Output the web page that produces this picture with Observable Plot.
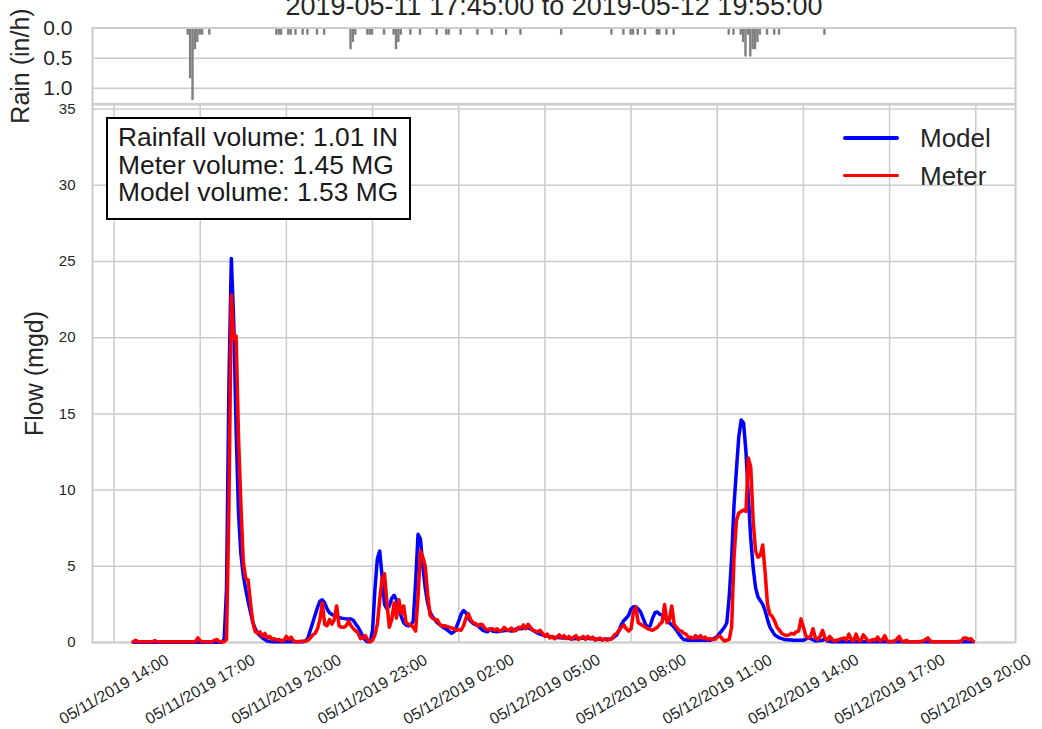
<!DOCTYPE html>
<html><head><meta charset="utf-8">
<script src="https://cdn.jsdelivr.net/npm/d3@7"></script>
<script src="https://cdn.jsdelivr.net/npm/@observablehq/plot@0.6"></script>
<style>
html,body{margin:0;padding:0;background:#fff;overflow:hidden}
#fig{position:relative;width:1042px;height:729px;font-family:"Liberation Sans",Arial,Helvetica,sans-serif;color:#262626;background:#fff}
#fig svg{position:absolute;left:0}
#box{position:absolute;left:106px;top:117px;width:305px;height:103px;box-sizing:border-box;border:2px solid #000;background:#fff;padding:5px 0 0 10px;font-size:26.4px;line-height:27.5px;color:#1a1a1a;white-space:nowrap}
.lg-line{position:absolute;left:843px;width:56px;height:3.5px;border-radius:2px}
.lg-text{position:absolute;left:920px;font-size:26px;line-height:26px;color:#262626}
</style></head>
<body><div id="fig"></div>
<script>
// ---------- data ----------
const titleText = "2019-05-11 17:45:00 to 2019-05-12 19:55:00";
const seriesNames = ["Model", "Meter"];
const seriesColors = ["#0000ff", "#ff0000"];
const volumeLines = ["Rainfall volume: 1.01 IN", "Meter volume: 1.45 MG", "Model volume: 1.53 MG"];

const xTickTimes = ["11 14:00","11 17:00","11 20:00","11 23:00","12 02:00","12 05:00","12 08:00","12 11:00","12 14:00","12 17:00","12 20:00"];
const flowTicks = [0,5,10,15,20,25,30,35];
const rainTicks = [0,0.5,1.0];

const rainTimes = ["11 16:35","11 16:40","11 16:45","11 16:50","11 16:55","11 17:00","11 17:05","11 17:20",
 "11 19:40","11 19:45","11 19:50","11 20:05","11 20:10","11 20:20","11 20:35","11 20:45","11 21:05","11 21:20",
 "11 22:15","11 22:20","11 22:25","11 22:50","11 22:55","11 23:00","11 23:25","11 23:45","11 23:50","11 23:55",
 "12 00:00","12 00:20","12 00:40","12 01:15","12 01:35","12 01:40","12 02:05","12 02:40","12 03:10","12 03:40","12 04:10","12 05:35",
 "12 07:20","12 07:45","12 08:00","12 08:05","12 08:15","12 08:30","12 08:55","12 09:00","12 09:15","12 09:30",
 "12 11:25","12 11:35","12 11:50","12 11:55","12 12:00","12 12:05","12 12:10","12 12:15","12 12:20","12 12:25","12 12:30",
 "12 12:45","12 13:00","12 13:10","12 14:45"];
const rainIntensity = [0.12,0.84,1.2,0.36,0.24,0.12,0.12,0.12,
 0.12,0.12,0.12,0.12,0.12,0.12,0.12,0.12,0.12,0.12,
 0.36,0.24,0.12,0.12,0.12,0.12,0.12,0.12,0.36,0.24,
 0.12,0.12,0.12,0.12,0.12,0.12,0.12,0.12,0.12,0.12,0.12,0.12,
 0.12,0.12,0.12,0.12,0.12,0.12,0.12,0.12,0.12,0.12,
 0.12,0.12,0.12,0.24,0.48,0.12,0.48,0.36,0.36,0.24,0.12,
 0.12,0.12,0.12,0.12];

const modelTimes = ["11 14:40","11 17:45","11 17:50","11 17:55","11 18:00","11 18:05","11 18:10","11 18:15","11 18:20","11 18:25","11 18:30","11 18:35","11 18:40","11 18:45","11 18:50","11 18:55","11 19:00","11 19:10","11 19:20","11 19:30",
 "11 20:35","11 20:40","11 20:45","11 20:50","11 20:55","11 21:00","11 21:05","11 21:10","11 21:15","11 21:20","11 21:25","11 21:30","11 21:35","11 21:45","11 21:55","11 22:05","11 22:15","11 22:20","11 22:25","11 22:30","11 22:35","11 22:40","11 22:45","11 22:50","11 22:55",
 "11 23:00","11 23:05","11 23:10","11 23:15","11 23:20","11 23:25","11 23:30","11 23:35","11 23:40","11 23:45","11 23:50","11 23:55",
 "12 00:00","12 00:05","12 00:10","12 00:15","12 00:20","12 00:25","12 00:30","12 00:35","12 00:40","12 00:45","12 00:50","12 00:55","12 01:00","12 01:05","12 01:10","12 01:15","12 01:25","12 01:35","12 01:45","12 01:50","12 01:55",
 "12 02:00","12 02:05","12 02:10","12 02:15","12 02:20","12 02:25","12 02:30","12 02:40","12 02:50","12 03:00","12 03:05","12 03:10","12 03:20","12 03:30","12 03:40","12 03:50","12 04:00","12 04:10","12 04:20","12 04:30","12 04:40","12 04:50",
 "12 05:00","12 05:10","12 05:20","12 05:40","12 06:00","12 06:20","12 06:40","12 07:00","12 07:20","12 07:30","12 07:35","12 07:40","12 07:45","12 07:50","12 07:55",
 "12 08:00","12 08:05","12 08:10","12 08:15","12 08:20","12 08:25","12 08:30","12 08:35","12 08:40","12 08:45","12 08:50","12 08:55","12 09:00","12 09:05","12 09:10","12 09:15","12 09:20","12 09:25","12 09:30","12 09:35","12 09:40","12 09:45","12 09:50",
 "12 10:00","12 10:45","12 10:50","12 10:55","12 11:00","12 11:05","12 11:10","12 11:15","12 11:20","12 11:25","12 11:30","12 11:35","12 11:40","12 11:45","12 11:50","12 11:55",
 "12 12:00","12 12:05","12 12:10","12 12:15","12 12:20","12 12:25","12 12:30","12 12:35","12 12:40","12 12:45","12 12:50","12 12:55","12 13:00","12 13:05","12 13:10","12 13:20","12 13:40",
 "12 14:00","12 14:10","12 14:15","12 14:25","12 14:40","12 14:45","12 14:50","12 15:00","12 19:55"];
const modelFlow = [0.02,0.02,0.2,3.5,17,25.2,21,14,8.5,5.8,4.4,3.5,2.7,2.0,1.3,0.9,0.6,0.3,0.1,0.05,
 0.05,0.1,0.3,0.8,1.3,1.8,2.3,2.7,2.8,2.6,2.2,1.95,1.85,1.7,1.6,1.55,1.55,1.45,1.2,1.0,0.7,0.35,0.15,0.05,0.05,
 0.8,3.5,5.5,6.0,4.3,2.5,2.2,2.4,2.9,3.1,2.8,2.2,
 1.7,1.3,1.15,1.1,1.15,1.4,4.0,7.1,6.8,5.0,3.6,2.6,2.0,1.7,1.5,1.3,1.05,0.85,0.6,0.7,1.0,
 1.4,1.85,2.1,1.95,1.6,1.4,1.25,1.1,0.8,0.7,0.9,0.75,0.7,0.75,0.8,0.75,0.9,0.9,1.0,0.9,0.7,0.55,
 0.45,0.4,0.35,0.3,0.25,0.3,0.25,0.2,0.25,0.5,0.8,1.2,1.45,1.6,1.8,
 2.2,2.35,2.35,2.2,2.0,1.6,1.2,1.0,1.1,1.6,1.95,2.0,1.85,1.8,1.65,1.45,1.3,1.15,1.0,0.8,0.55,0.35,0.2,
 0.15,0.15,0.2,0.3,0.4,0.6,0.8,1.0,1.3,3.0,5.5,9.0,11.3,13.5,14.6,14.4,
 12.5,9.5,6.8,4.9,3.6,3.0,2.75,2.5,2.1,1.5,1.0,0.75,0.5,0.4,0.3,0.2,0.15,
 0.15,0.3,0.25,0.1,0.15,0.25,0.1,0.05,0.05];

const meterTimes = ["11 14:40","11 14:45","11 14:50","11 15:20","11 15:25","11 15:30","11 16:50","11 16:55","11 17:00","11 17:05","11 17:25","11 17:30","11 17:35","11 17:40","11 17:50","11 17:55",
 "11 18:00","11 18:05","11 18:10","11 18:15","11 18:20","11 18:25","11 18:30","11 18:35","11 18:40","11 18:45","11 18:50","11 18:55","11 19:00","11 19:05","11 19:10","11 19:15","11 19:20","11 19:25","11 19:30","11 19:35","11 19:40","11 19:45","11 19:50","11 19:55",
 "11 20:00","11 20:05","11 20:10","11 20:15","11 20:20","11 20:40","11 20:45","11 20:50","11 20:55","11 21:00","11 21:05","11 21:10","11 21:15","11 21:20","11 21:25","11 21:30","11 21:35","11 21:40","11 21:45","11 21:50","11 21:55",
 "11 22:00","11 22:05","11 22:10","11 22:15","11 22:20","11 22:25","11 22:30","11 22:35","11 22:40","11 22:45","11 22:50","11 22:55","11 23:00","11 23:05","11 23:10","11 23:15","11 23:20","11 23:25","11 23:30","11 23:35","11 23:40","11 23:45","11 23:50","11 23:55",
 "12 00:00","12 00:05","12 00:10","12 00:15","12 00:20","12 00:25","12 00:30","12 00:35","12 00:40","12 00:45","12 00:50","12 00:55","12 01:00","12 01:05","12 01:10","12 01:15","12 01:20","12 01:25","12 01:30","12 01:35","12 01:40","12 01:45","12 01:50","12 01:55",
 "12 02:00","12 02:05","12 02:10","12 02:15","12 02:20","12 02:25","12 02:30","12 02:35","12 02:40","12 02:45","12 02:50","12 02:55","12 03:00","12 03:05","12 03:10","12 03:15","12 03:20","12 03:25","12 03:30","12 03:35","12 03:40","12 03:45","12 03:50","12 03:55",
 "12 04:00","12 04:05","12 04:10","12 04:15","12 04:20","12 04:25","12 04:30","12 04:35","12 04:40","12 04:45","12 04:50","12 04:55","12 05:00","12 05:05","12 05:10","12 05:15","12 05:20","12 05:25","12 05:30","12 05:35","12 05:40","12 05:45","12 05:50","12 05:55",
 "12 06:00","12 06:05","12 06:10","12 06:15","12 06:20","12 06:25","12 06:30","12 06:35","12 06:40","12 06:45","12 06:50","12 06:55","12 07:00","12 07:05","12 07:10","12 07:15","12 07:20","12 07:25","12 07:30","12 07:35","12 07:40","12 07:45","12 07:50","12 07:55",
 "12 08:00","12 08:05","12 08:10","12 08:15","12 08:20","12 08:25","12 08:30","12 08:35","12 08:40","12 08:45","12 08:50","12 08:55","12 09:00","12 09:05","12 09:10","12 09:15","12 09:20","12 09:25","12 09:30","12 09:35","12 09:40","12 09:45","12 09:50","12 09:55",
 "12 10:00","12 10:05","12 10:10","12 10:15","12 10:20","12 10:25","12 10:30","12 10:35","12 10:40","12 10:45","12 10:50","12 10:55","12 11:00","12 11:05","12 11:10","12 11:15","12 11:20","12 11:25","12 11:30","12 11:35","12 11:40","12 11:45","12 11:50","12 11:55",
 "12 12:00","12 12:05","12 12:10","12 12:15","12 12:20","12 12:25","12 12:30","12 12:35","12 12:40","12 12:45","12 12:50","12 12:55","12 13:00","12 13:05","12 13:10","12 13:15","12 13:20","12 13:25","12 13:30","12 13:35","12 13:40","12 13:45","12 13:50","12 13:55",
 "12 14:00","12 14:05","12 14:10","12 14:15","12 14:20","12 14:25","12 14:30","12 14:35","12 14:40","12 14:45","12 14:50","12 14:55","12 15:00","12 15:05","12 15:10","12 15:15","12 15:20","12 15:25","12 15:30","12 15:35","12 15:40","12 15:45","12 15:50","12 15:55",
 "12 16:00","12 16:05","12 16:10","12 16:15","12 16:20","12 16:25","12 16:30","12 16:35","12 16:40","12 16:45","12 16:50","12 16:55","12 17:00","12 17:10","12 17:15","12 17:20","12 17:25","12 17:30","12 17:35","12 17:40",
 "12 18:00","12 18:10","12 18:20","12 18:25","12 18:30","12 19:00","12 19:20","12 19:30","12 19:35","12 19:40","12 19:45","12 19:50","12 19:55"];
const meterFlow = [0.05,0.15,0.05,0.05,0.12,0.05,0.05,0.3,0.1,0.05,0.05,0.15,0.2,0.05,0.05,0.2,
 9,22.8,19.9,20.1,13.5,9,5.3,4.2,4.1,2.6,1.3,0.7,0.6,0.7,0.4,0.6,0.3,0.4,0.2,0.25,0.15,0.2,0.1,0.15,
 0.4,0.2,0.35,0.1,0.05,0.1,0.15,0.3,0.5,0.6,0.9,1.5,2.6,1.2,1.1,1.5,1.2,1.5,2.4,1.1,1.0,
 1.0,1.1,1.4,1.1,0.9,0.75,0.6,0.25,0.3,0.45,0.15,0.05,0.15,0.5,1.2,2.8,4.2,4.5,2.6,1.0,1.5,2.6,1.6,2.8,
 1.9,2.4,1.3,1.2,1.15,1.0,0.75,3.0,6.0,5.6,5.0,3.2,1.8,1.6,1.5,1.5,1.2,1.1,1.1,1.05,1.0,0.95,0.9,0.8,
 0.85,0.8,1.1,1.6,1.9,1.5,1.3,1.25,1.1,1.2,1.15,0.9,0.85,0.85,0.9,0.8,0.9,0.75,0.8,1.0,0.85,0.8,0.95,0.75,
 0.8,1.0,0.95,1.15,0.9,1.2,1.0,0.8,0.75,0.7,0.8,0.6,0.4,0.55,0.3,0.4,0.25,0.35,0.5,0.3,0.45,0.25,0.4,0.2,
 0.35,0.45,0.2,0.3,0.4,0.2,0.4,0.25,0.35,0.15,0.2,0.3,0.15,0.25,0.15,0.2,0.25,0.5,0.6,0.8,1.0,1.15,0.9,0.75,
 0.9,2.0,2.3,1.3,1.2,1.1,1.0,0.9,0.85,0.8,0.9,1.0,1.2,1.35,2.5,1.3,1.5,2.4,1.2,1.0,0.8,0.75,0.6,0.55,
 0.3,0.35,0.25,0.45,0.3,0.45,0.25,0.35,0.2,0.25,0.2,0.2,0.35,0.45,0.25,0.1,0.15,0.2,1.0,5.5,8.0,8.5,8.6,8.7,
 8.6,12.1,11.5,8.0,6.0,5.6,5.7,6.4,4.6,2.5,1.85,1.7,1.4,1.0,0.8,0.6,0.5,0.45,0.5,0.6,0.55,0.7,0.75,1.55,
 1.0,0.45,0.3,0.4,0.9,0.3,0.2,0.4,0.8,0.3,0.15,0.4,0.2,0.1,0.15,0.2,0.25,0.3,0.15,0.55,0.2,0.1,0.55,0.15,
 0.1,0.5,0.3,0.1,0.1,0.2,0.15,0.35,0.1,0.2,0.45,0.1,0.05,0.1,0.2,0.4,0.1,0.05,0.15,0.05,
 0.05,0.1,0.3,0.1,0.05,0.05,0.05,0.1,0.3,0.3,0.2,0.25,0.05];

// ---------- build ----------
const parse = d3.utcParse("%Y-%m-%d %H:%M");
const T = s => parse("2019-05-" + s);
const model = modelTimes.map((t, i) => ({t: T(t), v: modelFlow[i]}));
const meter = meterTimes.map((t, i) => ({t: T(t), v: meterFlow[i]}));
const rain = rainTimes.map((t, i) => ({t: T(t), v: rainIntensity[i]}));
const xTicks = xTickTimes.map(T);
const xDomain = [T("11 13:15"), T("12 21:23")];
const fmt = d3.utcFormat("%m/%d/%Y %H:%M");
const svgStyle = {background: "transparent", fontFamily: '"Liberation Sans", Arial, Helvetica, sans-serif', color: "#262626", overflow: "visible"};
const grid = "#cccccc";

const rainPlot = Plot.plot({
  width: 1042, height: 106,
  marginLeft: 92, marginRight: 27, marginTop: 27.5, marginBottom: 2.5,
  x: {type: "utc", domain: xDomain, axis: null},
  y: {domain: [0, 1.26], reverse: true, axis: null},
  style: svgStyle,
  marks: [
    Plot.ruleY(rainTicks.slice(1), {stroke: grid, strokeWidth: 1.5}),
    Plot.rect(rain, {x1: d => new Date(+d.t - 150000), x2: d => new Date(+d.t + 150000), y1: 0, y2: "v", fill: "#7f7f7f"}),
    Plot.frame({stroke: grid, strokeWidth: 2}),
    Plot.axisY({ticks: rainTicks, tickSize: 0, tickPadding: 20, fontSize: 21, tickFormat: d3.format(".1f"), label: null}),
    Plot.text([titleText], {text: d => d, frameAnchor: "top", dy: -13.5, lineAnchor: "bottom", fontSize: 27})
  ]
});
rainPlot.style.top = "0px";

const mainPlot = Plot.plot({
  width: 1042, height: 629,
  marginLeft: 92, marginRight: 27, marginTop: 4, marginBottom: 87,
  x: {type: "utc", domain: xDomain, axis: null},
  y: {domain: [0, 35.3], axis: null},
  style: svgStyle,
  marks: [
    Plot.ruleX(xTicks, {stroke: grid, strokeWidth: 1.5}),
    Plot.ruleY(flowTicks, {stroke: grid, strokeWidth: 1.5}),
    Plot.frame({stroke: grid, strokeWidth: 2}),
    Plot.line(model, {x: "t", y: "v", stroke: seriesColors[0], strokeWidth: 3.5}),
    Plot.line(meter, {x: "t", y: "v", stroke: seriesColors[1], strokeWidth: 3.5}),
    Plot.axisY({ticks: flowTicks, tickSize: 0, tickPadding: 17, fontSize: 15, label: null}),
    Plot.text(xTicks, {x: d => d, text: d => fmt(d), frameAnchor: "bottom", dy: 47, rotate: -30, fontSize: 16, textAnchor: "middle", lineAnchor: "middle"}),
    Plot.text(["Flow (mgd)"], {text: d => d, frameAnchor: "left", dx: -58, rotate: -90, fontSize: 25, textAnchor: "middle", lineAnchor: "middle"})
  ]
});
mainPlot.style.top = "100px";

// overlay plot only for the rain axis label (spans beyond the small rain panel)
const labelPlot = Plot.plot({
  width: 1042, height: 140,
  marginLeft: 92, marginRight: 27, marginTop: 0, marginBottom: 9,
  x: {type: "utc", domain: xDomain, axis: null},
  y: {domain: [0, 1], axis: null},
  style: svgStyle,
  marks: [
    Plot.text(["Rain (in/h)"], {text: d => d, frameAnchor: "left", dx: -72, rotate: -90, fontSize: 25, textAnchor: "middle", lineAnchor: "middle"})
  ]
});
labelPlot.style.top = "0px";
labelPlot.style.pointerEvents = "none";

const fig = document.getElementById("fig");
fig.appendChild(rainPlot);
fig.appendChild(mainPlot);
fig.appendChild(labelPlot);

const box = document.createElement("div");
box.id = "box";
box.innerHTML = volumeLines.map(s => `<div>${s}</div>`).join("");
fig.appendChild(box);

const lineTops = [136, 173.5];
const textTops = [125, 163];
seriesNames.forEach((name, i) => {
  const ln = document.createElement("div");
  ln.className = "lg-line";
  ln.style.top = lineTops[i] + "px";
  ln.style.background = seriesColors[i];
  fig.appendChild(ln);
  const tx = document.createElement("div");
  tx.className = "lg-text";
  tx.style.top = textTops[i] + "px";
  tx.textContent = name;
  fig.appendChild(tx);
});
</script>
</body></html>
